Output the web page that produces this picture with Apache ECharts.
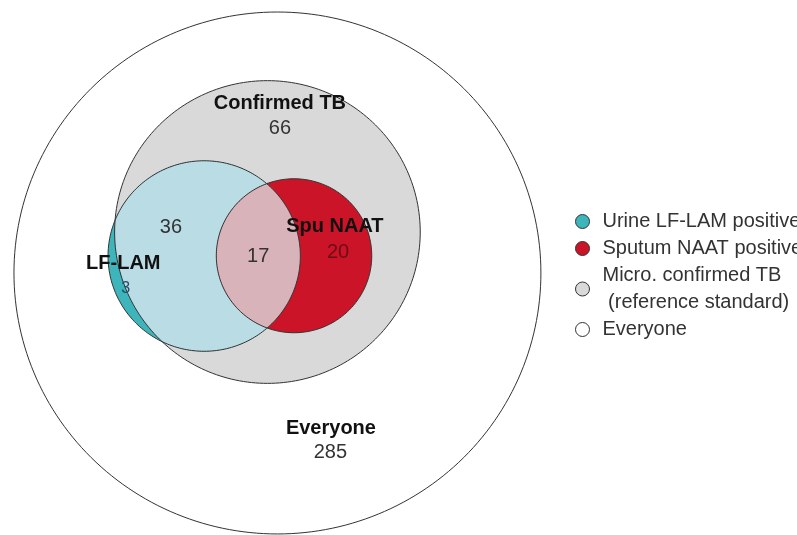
<!DOCTYPE html>
<html>
<head>
<meta charset="utf-8">
<script src="https://cdn.jsdelivr.net/npm/echarts@6/dist/echarts.min.js"></script>
<style>
html, body { margin: 0; padding: 0; background: #fff; }
#chart { width: 797px; height: 535px; }
</style>
</head>
<body>
<div id="chart"></div>
<script>
// sets, in legend order
const setNames = ["Urine LF-LAM positive", "Sputum NAAT positive", "Micro. confirmed TB\n (reference standard)", "Everyone"]
const setLabels = ["LF-LAM", "Spu NAAT", "Confirmed TB", "Everyone"]
// region counts
const regionNames = ["Confirmed TB only", "LF-LAM & TB, no NAAT", "LF-LAM, not TB", "LF-LAM & NAAT", "NAAT only", "Everyone else"]
const regionCounts = [66, 36, 3, 17, 20, 285]

// euler layout (data units, everyone circle = radius 100)
const circleX = [-27.8, 6.3, -3.8, 0]
const circleY = [6.5, 6.6, 15.7, 0]
const circleR = [36.5, 29.5, 58, 100]
const setLabelPos = [[-58.5, 3.6], [21.8, 17.7], [0.95, 65.1], [20.3, -59.4]]
const countPos = [[0.95, 55.2], [-40.4, 17.4], [-57.6, -6.1], [-7.3, 6.5], [23.0, 7.7], [20.1, -68.8]]

const FONT = '"Liberation Sans", Arial, sans-serif'
const EDGE = "#333"
const fills = { lam: "#3db5bb", lamTB: "#badce5", naat: "#cb1428", both: "#d8b4ba", tb: "#d9d9d9", all: "#ffffff" }

const circ = i => ({ x: circleX[i], y: circleY[i], r: circleR[i] })
const LAM = circ(0), NAAT = circ(1), TB = circ(2), ALL = circ(3)

function arc(c, a0, a1, n) {
  const pts = []
  for (let i = 0; i <= n; i++) {
    const a = a0 + (a1 - a0) * i / n
    pts.push([c.x + c.r * Math.cos(a), c.y + c.r * Math.sin(a)])
  }
  return pts
}
function full(c) { return arc(c, 0, Math.PI * 2, 240) }
// region inside both A and B
function lens(A, B) {
  const dx = B.x - A.x, dy = B.y - A.y, d = Math.hypot(dx, dy)
  const al = Math.acos((d * d + A.r * A.r - B.r * B.r) / (2 * d * A.r))
  const be = Math.acos((d * d + B.r * B.r - A.r * A.r) / (2 * d * B.r))
  const t = Math.atan2(dy, dx)
  return arc(A, t - al, t + al, 120).concat(arc(B, t + Math.PI - be, t + Math.PI + be, 120))
}
function poly(api, pts, style) {
  return { type: "polygon", shape: { points: pts.map(p => api.coord(p)) }, style }
}
function label(api, pos, text, opts) {
  const p = api.coord(pos)
  return {
    type: "text", x: p[0], y: p[1],
    style: Object.assign({ text, fill: "#333", fontSize: 20, fontFamily: FONT, align: "center", verticalAlign: "middle" }, opts)
  }
}

function vennSeries(name, idx, color, build) {
  return {
    type: "custom", name, silent: true,
    coordinateSystem: "cartesian2d",
    itemStyle: { color },
    data: [[circleX[idx], circleY[idx]]],
    renderItem: (params, api) => ({ type: "group", children: build(api) })
  }
}

const chart = echarts.init(document.getElementById("chart"))
chart.setOption({
  animation: false,
  backgroundColor: "#fff",
  grid: { left: 0, right: 0, top: 0, bottom: 0 },
  xAxis: { type: "value", min: -105.3, max: 197.2, show: false },
  yAxis: { type: "value", min: -100.4, max: 104.6, show: false },
  legend: {
    orient: "vertical", left: 575, top: 208, padding: 0,
    itemGap: 0, itemWidth: 30, itemHeight: 14, icon: "circle",
    selectedMode: false,
    itemStyle: { borderColor: EDGE, borderWidth: 1 },
    textStyle: { fontSize: 20, fontFamily: FONT, color: "#333", lineHeight: 27 },
    data: setNames
  },
  series: [
    vennSeries(setNames[3], 3, fills.all, api => [
      poly(api, full(ALL), { fill: fills.all, stroke: EDGE, lineWidth: 1 })
    ]),
    vennSeries(setNames[2], 2, fills.tb, api => [
      poly(api, full(TB), { fill: fills.tb })
    ]),
    vennSeries(setNames[0], 0, fills.lam, api => [
      poly(api, full(LAM), { fill: fills.lam }),
      poly(api, lens(LAM, TB), { fill: fills.lamTB })
    ]),
    vennSeries(setNames[1], 1, fills.naat, api => [
      poly(api, full(NAAT), { fill: fills.naat }),
      poly(api, lens(NAAT, LAM), { fill: fills.both })
    ]),
    // outlines and texts on top
    vennSeries("labels", 3, EDGE, api => [
      poly(api, full(TB), { fill: "none", stroke: EDGE, lineWidth: 1 }),
      poly(api, full(LAM), { fill: "none", stroke: EDGE, lineWidth: 1 }),
      poly(api, full(NAAT), { fill: "none", stroke: EDGE, lineWidth: 1 }),
      ...setLabels.map((t, i) => label(api, setLabelPos[i], t, { fill: "#111", fontWeight: "bold" })),
      ...regionCounts.map((v, i) => label(api, countPos[i], String(v),
        i === 4 ? { fill: "#6b0d16" } : i === 2 ? { fill: "#1f4f6b", fontSize: 16 } : {}))
    ])
  ]
})
</script>
</body>
</html>
